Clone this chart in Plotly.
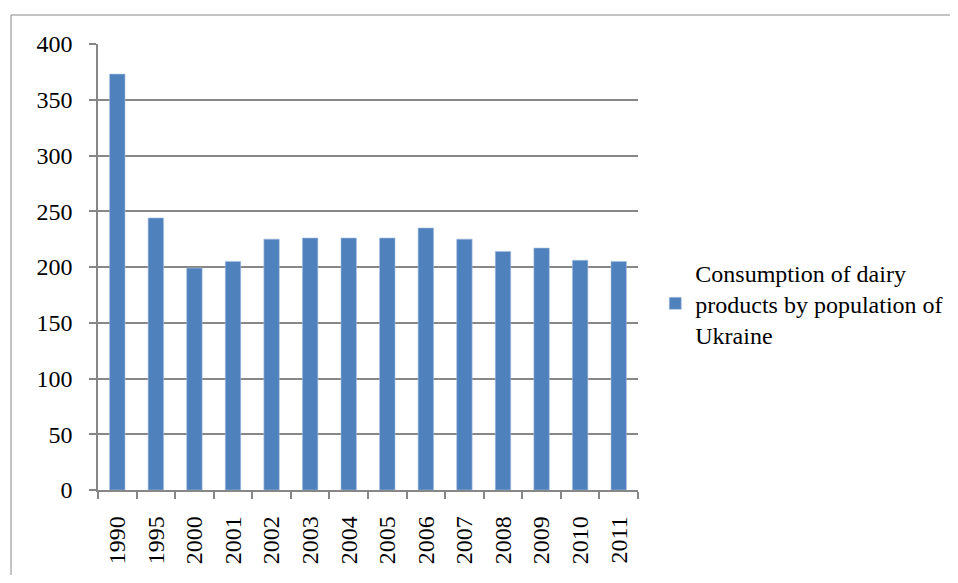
import plotly.graph_objects as go

years = ["1990", "1995", "2000", "2001", "2002", "2003", "2004", "2005",
         "2006", "2007", "2008", "2009", "2010", "2011"]
consumption = [373, 244, 199, 205, 225, 226, 226, 226, 235, 225, 214, 217, 206, 205]
series_name = "Consumption of dairy<br>products by population of<br>Ukraine"
y_ticks = [0, 50, 100, 150, 200, 250, 300, 350, 400]

FONT = "Times New Roman, Liberation Serif, Tinos, DejaVu Serif, serif"
GRID = "#878787"

fig = go.Figure()
fig.add_trace(go.Bar(
    x=years, y=consumption, name=series_name,
    marker=dict(color="#4F81BD", line=dict(color="#A7C0DE", width=0.6)),
    showlegend=True,
))

fig.update_layout(
    width=942, height=567,
    margin=dict(l=90, r=312, t=36, b=85, autoexpand=False),
    paper_bgcolor="white", plot_bgcolor="white",
    bargap=0.6,
    font=dict(family=FONT, size=24, color="black"),
    showlegend=True,
    legend=dict(x=1.032, y=0.538, xanchor="left", yanchor="top",
                font=dict(family=FONT, size=24, color="black"),
                itemwidth=30, tracegroupgap=0, bgcolor="rgba(0,0,0,0)"),
    xaxis=dict(
        type="category", showgrid=False, showline=True, linecolor=GRID, linewidth=1.5,
        ticks="outside", ticklen=7, tickcolor=GRID, tickwidth=1.5,
        tickson="boundaries", tickangle=-90, ticklabelstandoff=15,
        tickfont=dict(family=FONT, size=24, color="black"),
    ),
    yaxis=dict(
        range=[0, 400], tickvals=y_ticks, showgrid=True, gridcolor=GRID, gridwidth=1.5,
        showline=True, linecolor=GRID, linewidth=1.5,
        ticks="outside", ticklen=7, tickcolor=GRID, tickwidth=1.5,
        ticklabelstandoff=12,
        tickfont=dict(family=FONT, size=24, color="black"),
        zeroline=False,
    ),
    shapes=[dict(type="rect", xref="paper", yref="paper",
                 x0=(11 - 98) / 540, x1=(957 - 98) / 540,
                 y0=-0.3, y1=(490 - 15) / 446,
                 line=dict(color=GRID, width=1), fillcolor="rgba(0,0,0,0)", layer="below")],
)

fig.write_html("out.html")
